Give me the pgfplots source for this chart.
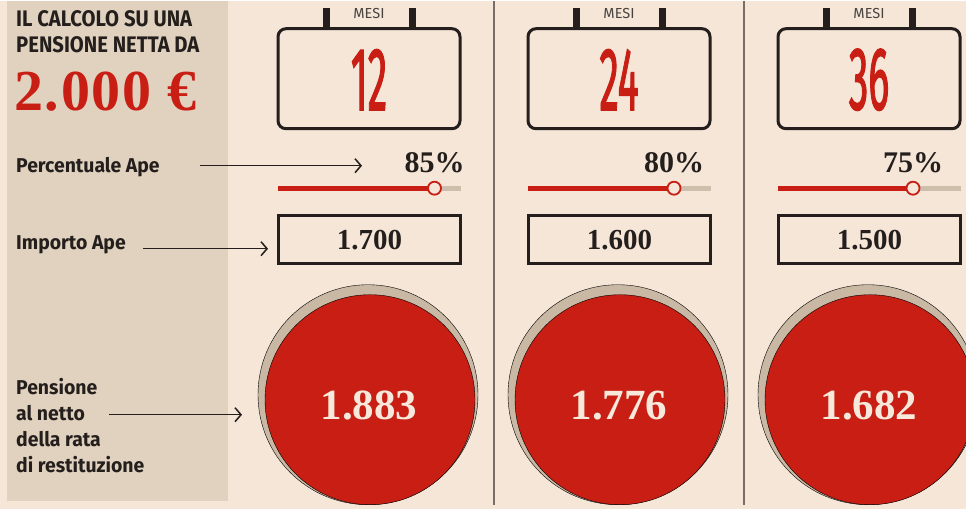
\documentclass[border=0pt]{standalone}
\usepackage{pgfplots}
\pgfplotsset{compat=1.18}
\usepackage{graphicx}
\usepackage{fontspec}
\setmainfont{Fira Sans}
\newfontfamily\condsans[FakeStretch=0.9]{Fira Sans}
\newfontfamily\labsans[FakeStretch=0.97]{Fira Sans}
\newfontfamily\monthfont[FakeBold=2]{Fira Sans}
\newfontfamily\serif{Liberation Serif}
\usetikzlibrary{arrows.meta}
\definecolor{bg}{RGB}{245,230,216}
\definecolor{panel}{RGB}{225,210,192}
\definecolor{rd}{RGB}{200,30,20}
\definecolor{shadowc}{RGB}{201,184,164}
\definecolor{slgray}{RGB}{206,190,172}
\definecolor{ink}{RGB}{36,31,28}
\definecolor{sep}{RGB}{120,110,102}
\definecolor{mesi}{RGB}{72,67,63}
\definecolor{cream}{RGB}{246,232,218}

\begin{document}
\begin{tikzpicture}[trim left=0pt, trim right=966pt]
\begin{axis}[x=1pt, y=1pt, y dir=reverse,
  xmin=0, xmax=966, ymin=0, ymax=508,
  hide axis, clip=false, anchor=north west, at={(0,0)}]

% background and left panel
\fill[bg] (axis cs:0,0) rectangle (axis cs:966,508);
\fill[panel] (axis cs:7,0) rectangle (axis cs:228,500);

% column separators
\addplot[sep, line width=1.4pt] coordinates {(494,0) (494,504)};
\addplot[sep, line width=1.4pt] coordinates {(744,0) (744,504)};

% left-hand texts
\node[anchor=base west, inner sep=0pt, text=ink, font=\condsans\bfseries\fontsize{22.5}{24}\selectfont] at (axis cs:16,26) {IL CALCOLO SU UNA};
\node[anchor=base west, inner sep=0pt, text=ink, font=\condsans\bfseries\fontsize{22.5}{24}\selectfont] at (axis cs:16,52) {PENSIONE NETTA DA};
\node[anchor=base west, inner sep=0pt, text=rd, font=\serif\bfseries\fontsize{58}{60}\selectfont\addfontfeature{LetterSpace=3}] at (axis cs:14,110) {2.000 €};
\node[anchor=base west, inner sep=0pt, text=ink, font=\labsans\bfseries\fontsize{20}{22}\selectfont] at (axis cs:16,172) {Percentuale Ape};
\node[anchor=base west, inner sep=0pt, text=ink, font=\labsans\bfseries\fontsize{20}{22}\selectfont] at (axis cs:16,249) {Importo Ape};
\node[anchor=base west, inner sep=0pt, text=ink, font=\labsans\bfseries\fontsize{20}{22}\selectfont] at (axis cs:16,394) {Pensione};
\node[anchor=base west, inner sep=0pt, text=ink, font=\labsans\bfseries\fontsize{20}{22}\selectfont] at (axis cs:16,420) {al netto};
\node[anchor=base west, inner sep=0pt, text=ink, font=\labsans\bfseries\fontsize{20}{22}\selectfont] at (axis cs:16,446) {della rata};
\node[anchor=base west, inner sep=0pt, text=ink, font=\labsans\bfseries\fontsize{20}{22}\selectfont] at (axis cs:16,472) {di restituzione};

% arrows
\draw[ink, line width=1.5pt, -{Straight Barb[length=6pt,width=14pt]}] (axis cs:200,165) -- (axis cs:362,165);
\draw[ink, line width=1.5pt, -{Straight Barb[length=6pt,width=14pt]}] (axis cs:143,248) -- (axis cs:268,248);
\draw[ink, line width=1.5pt, -{Straight Barb[length=6pt,width=14pt]}] (axis cs:109,414) -- (axis cs:242,414);

% calendar boxes
\foreach \c in {369,619,869} {
  \edef\tmp{\noexpand\draw[ink, line width=3pt, rounded corners=8pt] (axis cs:\c-91,28) rectangle (axis cs:\c+91,128);}\tmp
  \edef\tmp{\noexpand\fill[ink] (axis cs:\c-46.5,7) rectangle (axis cs:\c-39.5,28);}\tmp
  \edef\tmp{\noexpand\fill[ink] (axis cs:\c+39.5,7) rectangle (axis cs:\c+46.5,28);}\tmp
  \edef\tmp{\noexpand\node[anchor=base, inner sep=0pt, text=mesi, font=\noexpand\fontsize{14.5}{15}\noexpand\selectfont] at (axis cs:\c,18) {MESI};}\tmp
  \edef\tmp{\noexpand\draw[ink, line width=3pt] (axis cs:\c-91,215) rectangle (axis cs:\c+91,263);}\tmp
}

% months
\addplot[draw=none, mark=none, point meta=explicit symbolic,
  nodes near coords={\scalebox{0.44}[1]{\pgfplotspointmeta}},
  nodes near coords style={anchor=center, inner sep=0pt, text=rd,
    font=\monthfont\fontsize{89}{89}\selectfont}]
  coordinates {(369,79) [12] (619,79) [24] (869,79) [36]};

% sliders (0-100 %)
\addplot[slgray, line width=5pt] coordinates {(278,187.5) (461,187.5)};
\addplot[slgray, line width=5pt] coordinates {(528,187.5) (711,187.5)};
\addplot[slgray, line width=5pt] coordinates {(778,187.5) (961,187.5)};
\addplot[rd, line width=5pt] coordinates {(278,187.5) (434.5,187.5)};
\addplot[rd, line width=5pt] coordinates {(528,187.5) (674,187.5)};
\addplot[rd, line width=5pt] coordinates {(778,187.5) (913,187.5)};
\addplot[only marks, mark=*, mark size=6.5pt, mark options={fill=bg, draw=rd, line width=1.8pt}]
  coordinates {(434.5,187.5) (674,187.5) (913,187.5)};

% percentages
\addplot[draw=none, mark=none, nodes near coords, point meta=explicit symbolic,
  nodes near coords style={anchor=base, inner sep=0pt, text=ink,
    font=\serif\bfseries\fontsize{30}{30}\selectfont}]
  coordinates {(434.5,172) [85\%] (674,172) [80\%] (913,172) [75\%]};

% Ape amounts
\addplot[draw=none, mark=none, nodes near coords, point meta=explicit symbolic,
  nodes near coords style={anchor=base, inner sep=0pt, text=ink,
    font=\serif\bfseries\fontsize{29}{29}\selectfont}]
  coordinates {(369.5,249) [1.700] (619.5,249) [1.600] (869.5,249) [1.500]};

% pension circles
\addplot[only marks, mark=*, mark size=110pt, mark options={draw=none, fill=shadowc}]
  coordinates {(368,394) (618,394) (868,394)};
\addplot[only marks, mark=*, mark size=105pt, mark options={draw=none, fill=rd}]
  coordinates {(370,399) (620,399) (870,399)};
\addplot[draw=none, mark=none, nodes near coords, point meta=explicit symbolic,
  nodes near coords style={anchor=base, inner sep=0pt, text=cream,
    font=\serif\bfseries\fontsize{43}{43}\selectfont}]
  coordinates {(369,419) [1.883] (619,419) [1.776] (869,419) [1.682]};
\end{axis}
\end{tikzpicture}
\end{document}
